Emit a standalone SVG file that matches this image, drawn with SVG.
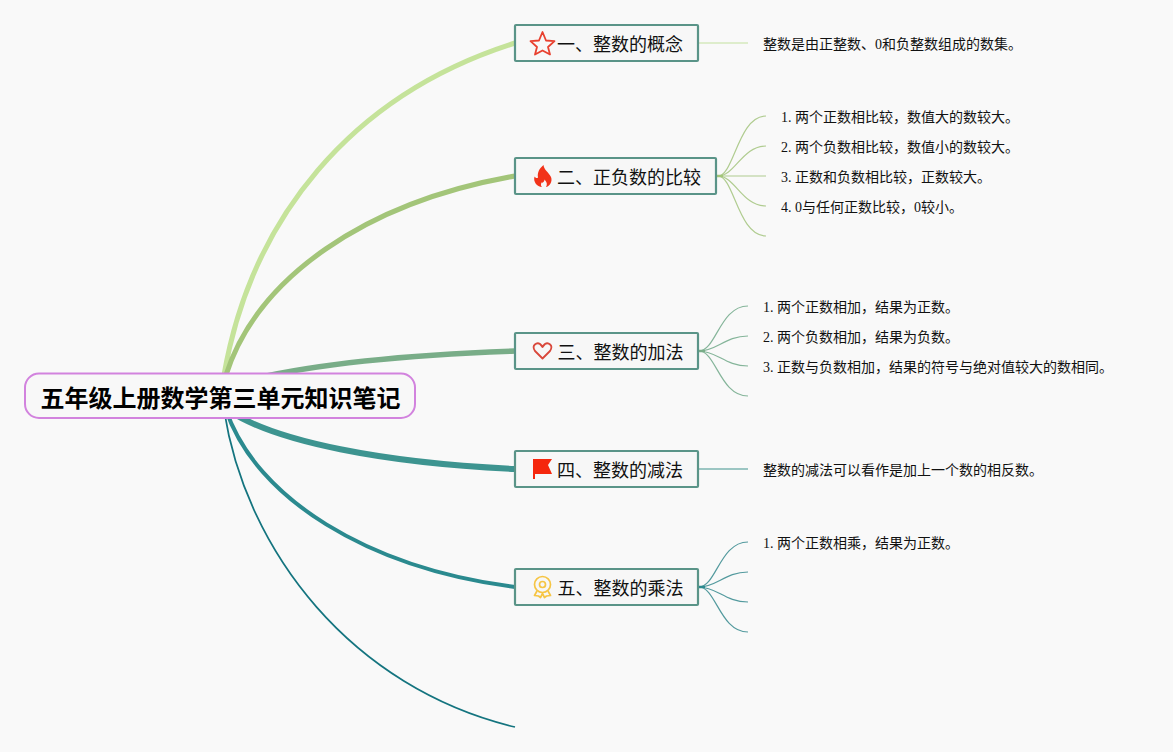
<svg xmlns="http://www.w3.org/2000/svg" width="1173" height="752" viewBox="0 0 1173 752">
<style>
text{font-family:"Liberation Serif","Noto Sans CJK SC",serif;fill:#111}
.t{font-family:"Noto Sans CJK SC","Noto Sans",sans-serif;font-size:18px}
.s{font-size:14px}
.r{font-family:"Noto Sans CJK SC","Noto Sans",sans-serif;font-size:24px;font-weight:700;fill:#000}
.b{fill:#f7f7f7;stroke:#5a9488;stroke-width:2.200}
path,circle{fill:none}
</style>
<rect width="1173" height="752" fill="#f9f9f9"/>
<g id="connectors">
<path d="M224 375C251 220 350 95 515 43" stroke="#c5e39a" stroke-width="5"/>
<path d="M226 375C257 278 365 202 515 176" stroke="#a3c579" stroke-width="5"/>
<path d="M240 382C310 364 400 355 515 351" stroke="#79ad88" stroke-width="5.500"/>
<path d="M228 410C275 442 385 463 515 469" stroke="#3d9490" stroke-width="6"/>
<path d="M226 410C256 498 367 568 515 587" stroke="#2b8a8f" stroke-width="4"/>
<path d="M224 410C246 552 352 688 515 727" stroke="#14747f" stroke-width="1.700"/>
<path d="M698 43H748" stroke="#d4e8bd" stroke-width="1.500"/>
<g stroke="#b0cc90" stroke-width="1.200"><path d="M718 176C734 176 738 116 766 116"/><path d="M718 176C735 176 742 146 766 146"/><path d="M718 176H766"/><path d="M718 176C735 176 742 206 766 206"/><path d="M718 176C734 176 738 236 766 236"/></g>
<g stroke="#85b59a" stroke-width="1.200"><path d="M699 351C716 351 720 306 748 306"/><path d="M699 351C717 351 725 336 748 336"/><path d="M699 351C717 351 725 366 748 366"/><path d="M699 351C716 351 720 396 748 396"/></g>
<path d="M698 469H748" stroke="#7db5b0" stroke-width="1.500"/>
<g stroke="#539a9e" stroke-width="1.200"><path d="M699 587C716 587 720 542 748 542"/><path d="M699 587C717 587 725 572 748 572"/><path d="M699 587C717 587 725 602 748 602"/><path d="M699 587C716 587 720 632 748 632"/></g>
<path d="M717 176H723" stroke="#a3c579" stroke-width="2.500"/>
<path d="M698 351H705" stroke="#79ad88" stroke-width="2.500"/>
<path d="M698 587H705" stroke="#2b8a8f" stroke-width="2.500"/>
</g>
<g id="root"><rect x="25" y="373.500" width="390" height="44.500" rx="14" fill="#f8f8f8" stroke="#d283de" stroke-width="2"/><text class="r" x="40.500" y="407">五年级上册数学第三单元知识笔记</text></g>
<g id="n1"><rect class="b" x="515" y="25" width="183" height="36" rx="1"/>
<path d="M542.500 32L546 40.500L554.500 41.200L548 47L550 54.500L542.500 50.500L535 54.500L537 47L530.500 41.200L539 40.500Z" stroke="#e8402f" stroke-width="1.800" stroke-linejoin="round"/>
<text class="t" x="557" y="51">一、整数的概念</text></g>
<g id="n2"><rect class="b" x="515" y="158" width="201" height="36" rx="1"/>
<path d="M543.500 165C544 170 548.500 172 551 177C553 182 549 186.500 546 187C547.500 184.500 547 182 544.500 179.500C544.500 182 542.500 183 541.500 182.500C540.500 184.500 541 186 542 187C537 186.500 533 182 534.500 176.500C535.500 178 537 178.500 538 177.500C537 172 540 168 543.500 165Z" style="fill:#f2331a"/>
<text class="t" x="557" y="184">二、正负数的比较</text></g>
<g id="n3"><rect class="b" x="515" y="333" width="183" height="36" rx="1"/>
<path d="M542.500 358.500L535 351C531 345 537 342 540 344C541 345 542 346 542.500 347C543 346 544 345 545 344C548 342 554 345 550 351Z" stroke="#d9483b" stroke-width="1.800" stroke-linejoin="round"/>
<text class="t" x="557.500" y="359">三、整数的加法</text></g>
<g id="n4"><rect class="b" x="515" y="451" width="183" height="36" rx="1"/>
<path d="M533 459H552L548 465L552 474H535V479H533Z" style="fill:#f5270d"/>
<text class="t" x="557" y="477">四、整数的减法</text></g>
<g id="n5"><rect class="b" x="515" y="569" width="183" height="36" rx="1"/>
<g stroke="#f6c544" stroke-width="1.700" stroke-linejoin="round"><circle cx="542.500" cy="584.500" r="8"/><circle cx="542.500" cy="584.500" r="3"/><path d="M537 591L534.500 595.500L538.500 596L540.500 597.500L542.500 593.500L544.500 597.500L546.500 596L550.500 595.500L548 591"/></g>
<text class="t" x="557.500" y="595">五、整数的乘法</text></g>
<g id="d1"><text class="s" x="763" y="49">整数是由正整数、0和负整数组成的数集。</text></g>
<g id="d2"><text class="s" x="781" y="122">1. 两个正数相比较，数值大的数较大。</text>
<text class="s" x="781" y="152">2. 两个负数相比较，数值小的数较大。</text>
<text class="s" x="781" y="182">3. 正数和负数相比较，正数较大。</text>
<text class="s" x="781" y="212">4. 0与任何正数比较，0较小。</text></g>
<g id="d3"><text class="s" x="763" y="312">1. 两个正数相加，结果为正数。</text>
<text class="s" x="763" y="342">2. 两个负数相加，结果为负数。</text>
<text class="s" x="763" y="372">3. 正数与负数相加，结果的符号与绝对值较大的数相同。</text></g>
<g id="d4"><text class="s" x="763" y="475">整数的减法可以看作是加上一个数的相反数。</text></g>
<g id="d5"><text class="s" x="763" y="548">1. 两个正数相乘，结果为正数。</text></g>
</svg>
